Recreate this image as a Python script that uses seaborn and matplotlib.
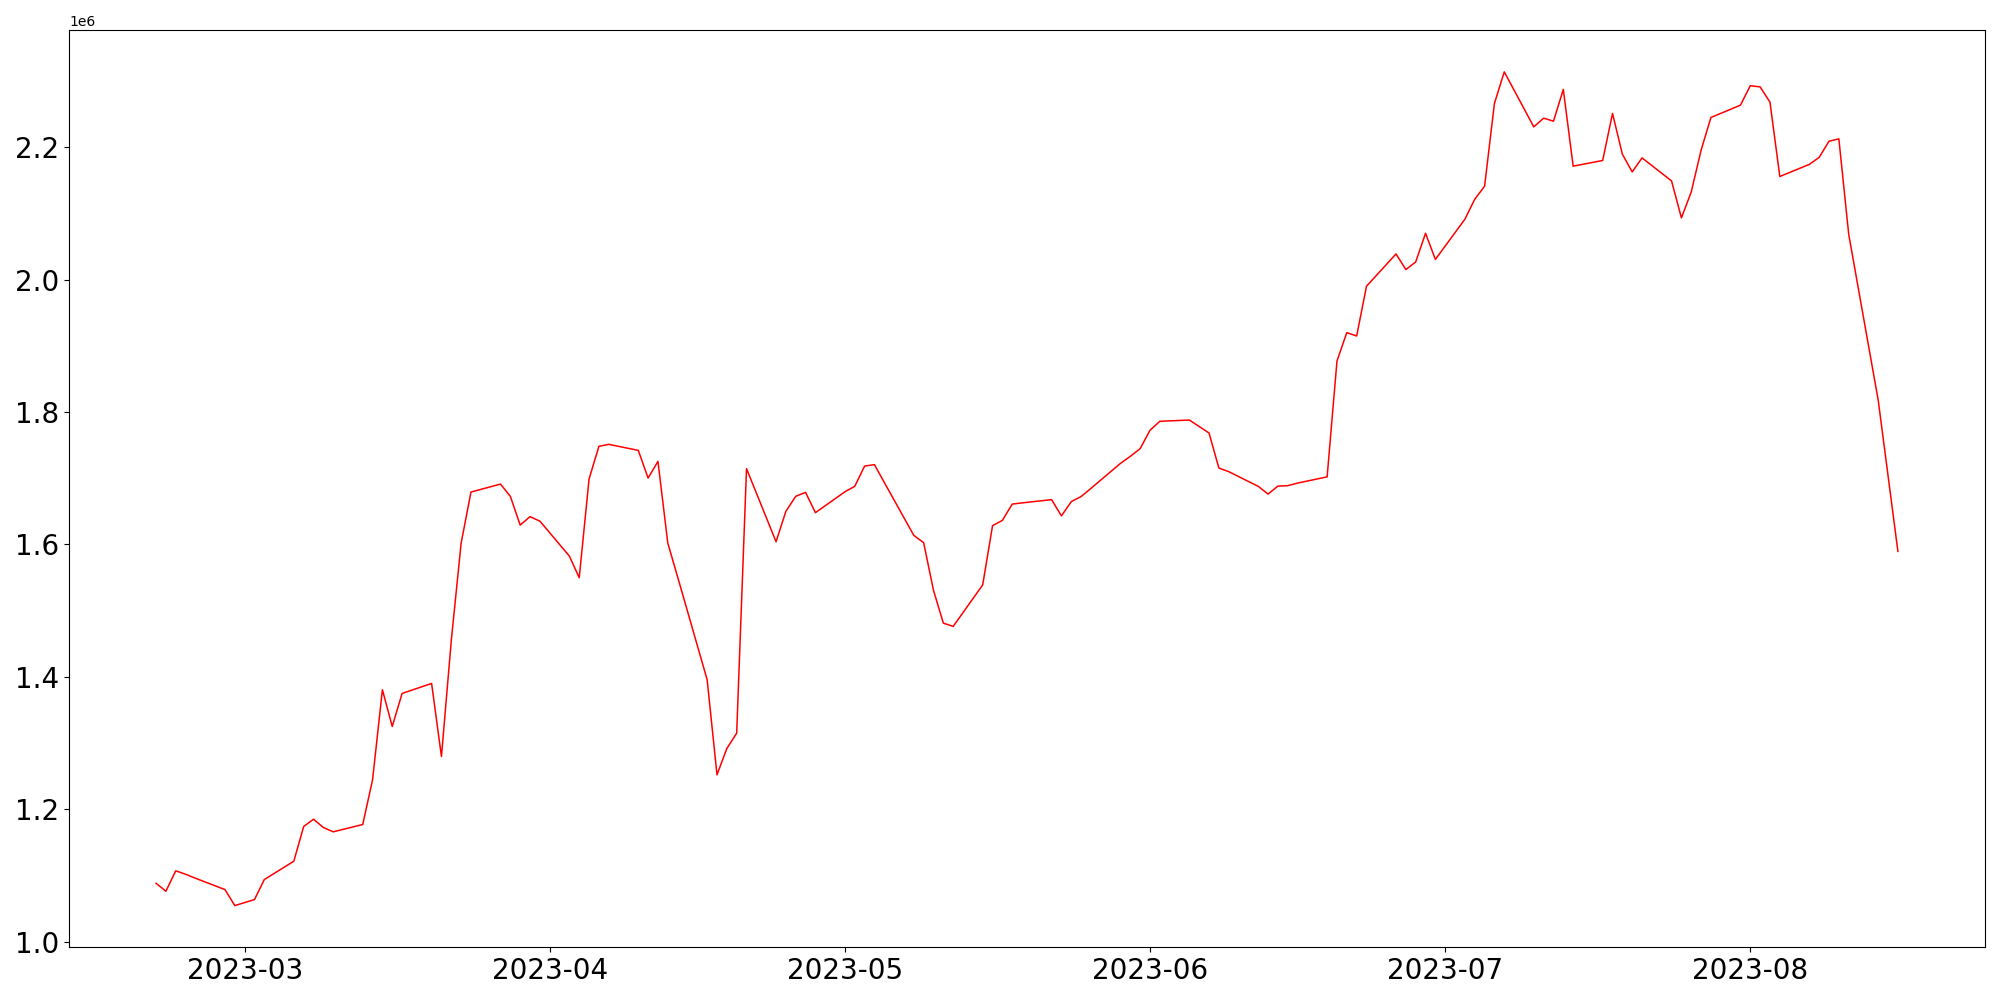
import matplotlib
matplotlib.use("Agg")
import matplotlib.pyplot as plt
import seaborn as sns
import pandas as pd
import numpy as np

# Business days from 2023-02-20 to 2023-08-16
start_date = "2023-02-20"
end_date = "2023-08-16"

feb_vals = [1.0885, 1.0764, 1.1073, 1.1021, 1.0961, 1.0790, 1.0548]
mar_vals = [1.0594, 1.0639, 1.0941,
            1.1218, 1.1742, 1.1852, 1.1727, 1.1662,
            1.1772, 1.2447, 1.3807, 1.3252, 1.3751,
            1.3902, 1.2799, 1.4551, 1.6021, 1.6792,
            1.6912, 1.6727, 1.6293, 1.6420, 1.6353]
apr_vals = [1.5825, 1.5498, 1.6988, 1.7482, 1.7512,
            1.7421, 1.7003, 1.7255, 1.6021, 1.5510,
            1.3958, 1.2523, 1.2920, 1.3151, 1.7145,
            1.6042, 1.6500, 1.6727, 1.6787, 1.6480]
may_vals = [1.6796, 1.6878, 1.7184, 1.7205, 1.6937,
            1.6137, 1.6027, 1.5307, 1.4813, 1.4763,
            1.5390, 1.6284, 1.6364, 1.6610, 1.6628,
            1.6677, 1.6432, 1.6647, 1.6724, 1.6847,
            1.7225, 1.7331, 1.7447]
jun_vals = [1.7724, 1.7860,
            1.7879, 1.7781, 1.7683, 1.7154, 1.7100,
            1.6878, 1.6761, 1.6882, 1.6888, 1.6927,
            1.7021, 1.8770, 1.9199, 1.9148, 1.9899,
            2.0387, 2.0151, 2.0266, 2.0699, 2.0304]
jul_vals = [2.0911, 2.1213, 2.1409, 2.2659, 2.3136,
            2.2305, 2.2437, 2.2391, 2.2870, 2.1712,
            2.1798, 2.2508, 2.1893, 2.1625, 2.1837,
            2.1489, 2.0931, 2.1323, 2.1953, 2.2447,
            2.2633]
aug_vals = [2.2927, 2.2909, 2.2678, 2.1556,
            2.1739, 2.1845, 2.2089, 2.2124, 2.0684,
            1.8177, 1.7036, 1.5896]

values_millions = feb_vals + mar_vals + apr_vals + may_vals + jun_vals + jul_vals + aug_vals
dates = pd.bdate_range(start_date, end_date)
assert len(dates) == len(values_millions), (len(dates), len(values_millions))

df = pd.DataFrame({"date": dates, "value": np.array(values_millions) * 1e6})

fig, ax = plt.subplots(figsize=(20, 10), dpi=100)
sns.lineplot(data=df, x="date", y="value", color="red", linewidth=1.1, ax=ax)
ax.set_xlabel("")
ax.set_ylabel("")
ax.tick_params(axis="both", labelsize=20)
fig.tight_layout()
fig.savefig("out.png", dpi=100)
